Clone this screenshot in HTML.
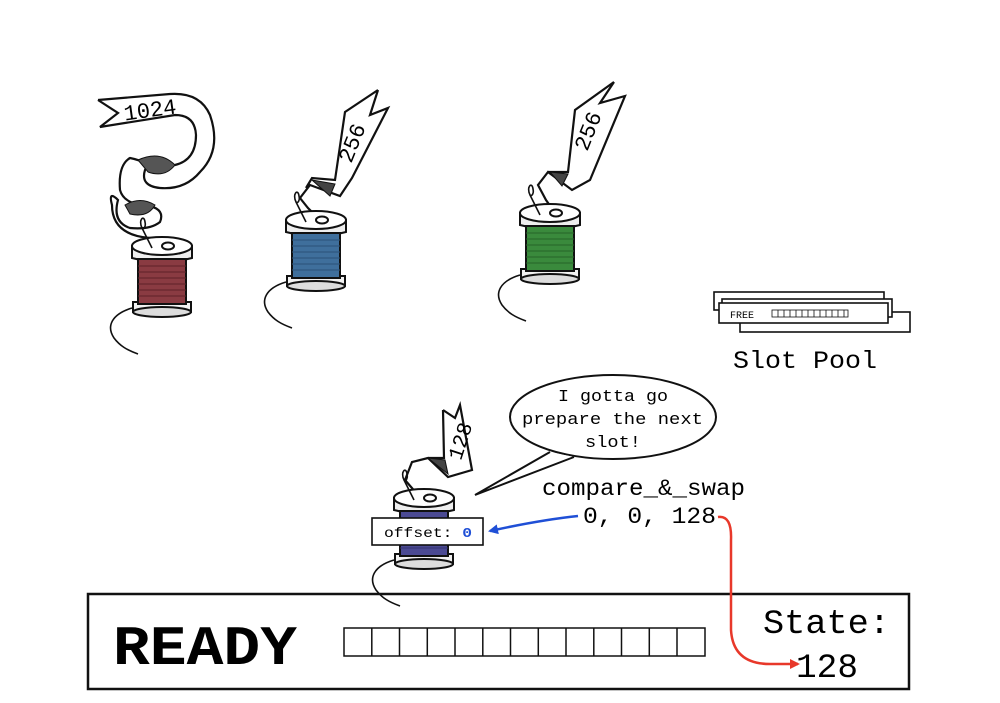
<!DOCTYPE html>
<html><head><meta charset="utf-8"><style>
html,body{margin:0;padding:0;background:#fff}
svg{display:block}
text{font-family:"Liberation Mono","Courier New",monospace}
</style></head><body>
<svg width="1000" height="703" viewBox="0 0 1000 703" xmlns="http://www.w3.org/2000/svg">
<defs>
<marker id="ab" markerWidth="10" markerHeight="10" refX="8" refY="5" orient="auto" markerUnits="userSpaceOnUse"><path d="M0,0 L10,5 L0,10 z" fill="#1f4fd6"/></marker>
<marker id="ar" markerWidth="10" markerHeight="10" refX="8" refY="5" orient="auto" markerUnits="userSpaceOnUse"><path d="M0,0 L10,5 L0,10 z" fill="#e8382a"/></marker>
<g id="spoolbase" stroke="#111" stroke-width="2">
  <path d="M-30,62 C-50,68 -56,80 -48,92 M-48,92 C-42,100 -35,104 -24,108" fill="none" stroke-width="1.6"/>
  <path d="M-29,56 L-29,66 Q0,74 29,66 L29,56 z" fill="#f2f2f2"/>
  <ellipse cx="0" cy="66" rx="29" ry="5" fill="#ddd"/>
  <path d="M-30,0 L-30,12 Q0,20 30,12 L30,0 z" fill="#eee"/>
  <ellipse cx="0" cy="0" rx="30" ry="9" fill="#fff"/>
  <ellipse cx="6" cy="0" rx="6" ry="3.5" fill="#fff"/>
  <path d="M-10,2 L-20,-18 M-20,-18 C-24,-26 -18,-32 -17,-24 C-16,-20 -18,-16 -20,-18" fill="none" stroke-width="1.6"/>
</g>
</defs>

<!-- RED spool + ribbon -->
<g stroke="#111" stroke-width="2.2" fill="#fff">
  <path d="M98,100 L170,94 Q200,92 210,115 Q222,150 200,172 Q185,190 160,188 Q140,186 145,170 Q150,162 130,158 Q118,165 120,190 Q124,205 150,206 Q165,210 160,222 Q150,230 130,228 Q112,222 118,200 Q108,190 112,205 Q112,235 150,238 L152,242" fill="#fff"/>
  <path d="M98,100 L118,113 L100,127 L175,115 Q195,115 196,135 Q196,160 175,165 Q155,168 150,160" fill="none"/>
  <path d="M138,160 Q160,150 175,165 Q165,178 148,172z" fill="#555" stroke-width="1"/>
  <path d="M125,205 Q140,196 155,205 Q148,218 130,214z" fill="#555" stroke-width="1"/>
</g>
<text x="150" y="117" font-family="Liberation Serif,serif" font-size="22" transform="rotate(-8 150 110)" text-anchor="middle">1024</text>
<g transform="translate(162,246)">
  <use href="#spoolbase"/>
  <rect x="-24" y="13" width="48" height="45" fill="#8a3b42" stroke="#111" stroke-width="2"/>
  <g stroke="#5e2228" stroke-width="1"><path d="M-24,20H24M-24,26H24M-24,32H24M-24,38H24M-24,44H24M-24,50H24"/></g>
</g>

<!-- BLUE -->
<g stroke="#111" stroke-width="2.2" fill="#fff">
  <path d="M378,90 L370,115 L388,108 L352,178 L340,196 L310,185 L300,198 L308,208 L318,218" fill="none"/>
  <path d="M378,90 L345,112 L335,180 L312,178 L306,188" fill="none"/>
  <path d="M312,180 L335,184 L330,196z" fill="#444" stroke-width="1"/>
</g>
<text x="352" y="150" font-family="Liberation Serif,serif" font-size="22" transform="rotate(-68 352 143)" text-anchor="middle">256</text>
<g transform="translate(316,220)">
  <use href="#spoolbase"/>
  <rect x="-24" y="13" width="48" height="45" fill="#3f6f9c" stroke="#111" stroke-width="2"/>
  <g stroke="#2b5278" stroke-width="1"><path d="M-24,20H24M-24,26H24M-24,32H24M-24,38H24M-24,44H24M-24,50H24"/></g>
</g>

<!-- GREEN -->
<g stroke="#111" stroke-width="2.2" fill="#fff">
  <path d="M614,82 L600,103 L625,96 L590,180 L572,190 L548,172 L538,185 L546,200 L553,210" fill="none"/>
  <path d="M614,82 L575,110 L568,172 L548,172" fill="none"/>
  <path d="M550,172 L568,174 L562,186z" fill="#444" stroke-width="1"/>
</g>
<text x="588" y="138" font-family="Liberation Serif,serif" font-size="22" transform="rotate(-68 588 131)" text-anchor="middle">256</text>
<g transform="translate(550,213)">
  <use href="#spoolbase"/>
  <rect x="-24" y="13" width="48" height="45" fill="#3a8a3c" stroke="#111" stroke-width="2"/>
  <g stroke="#266428" stroke-width="1"><path d="M-24,20H24M-24,26H24M-24,32H24M-24,38H24M-24,44H24M-24,50H24"/></g>
</g>

<!-- PURPLE -->
<g stroke="#111" stroke-width="2.2" fill="#fff">
  <path d="M443,410 L455,418 L460,405 L472,470 L448,477 L428,458 L412,462 L405,480 L418,495" fill="none"/>
  <path d="M443,410 L444,458 L428,458" fill="none"/>
  <path d="M428,458 L445,460 L448,474z" fill="#444" stroke-width="1"/>
</g>
<text x="460" y="448" font-family="Liberation Serif,serif" font-size="21" transform="rotate(-72 460 441)" text-anchor="middle">128</text>
<g transform="translate(424,498)">
  <use href="#spoolbase"/>
  <rect x="-24" y="13" width="48" height="45" fill="#4b4a93" stroke="#111" stroke-width="2"/>
  <g stroke="#333270" stroke-width="1"><path d="M-24,20H24M-24,26H24M-24,32H24M-24,38H24M-24,44H24M-24,50H24"/></g>
</g>

<!-- Slot pool -->
<g stroke="#111" stroke-width="1.6" fill="#fff">
  <rect x="740" y="312" width="170" height="20"/>
  <rect x="714" y="292" width="170" height="18"/>
  <rect x="722" y="299" width="170" height="18"/>
  <rect x="719" y="303" width="169" height="20"/>
</g>
<text x="730" y="318" font-size="10" font-family="Liberation Serif,serif">FREE</text>
<g stroke="#111" stroke-width="0.8" fill="none">
  <rect x="772" y="310" width="76" height="7"/>
  <path d="M778,310v7M784,310v7M790,310v7M796,310v7M802,310v7M808,310v7M814,310v7M820,310v7M826,310v7M832,310v7M838,310v7M844,310v7"/>
</g>
<text x="733" y="368" font-size="25" textLength="144" lengthAdjust="spacingAndGlyphs">Slot Pool</text>

<!-- speech bubble -->
<ellipse cx="613" cy="417" rx="103" ry="42" fill="#fff" stroke="#111" stroke-width="2"/>
<path d="M550,452 L475,495 L574,457" fill="#fff" stroke="#111" stroke-width="2"/>
<g font-size="17">
<text x="558" y="401" textLength="110" lengthAdjust="spacingAndGlyphs">I gotta go</text>
<text x="522" y="424" textLength="181" lengthAdjust="spacingAndGlyphs">prepare the next</text>
<text x="585" y="447" textLength="56" lengthAdjust="spacingAndGlyphs">slot!</text>
</g>

<text x="542" y="495" font-size="23" textLength="203" lengthAdjust="spacingAndGlyphs">compare_&amp;_swap</text>
<text x="583" y="523" font-size="23" textLength="133" lengthAdjust="spacingAndGlyphs">0, 0, 128</text>

<rect x="372" y="518" width="111" height="27" fill="#fff" stroke="#111" stroke-width="1.6"/>
<text x="384" y="537" font-size="14" textLength="88" lengthAdjust="spacingAndGlyphs">offset: <tspan fill="#1f4fd6" font-weight="bold">0</tspan></text>

<path d="M578,516 Q540,520 490,531" fill="none" stroke="#1f4fd6" stroke-width="2.5" marker-end="url(#ab)"/>

<!-- main box -->
<rect x="88" y="594" width="821" height="95" fill="none" stroke="#111" stroke-width="2.5"/>
<text x="113" y="664" font-size="56" font-weight="bold" textLength="184" lengthAdjust="spacingAndGlyphs">READY</text>
<g stroke="#111" stroke-width="1.5" fill="none">
  <rect x="344" y="628" width="361" height="28"/>
  <path d="M371.8,628v28M399.5,628v28M427.3,628v28M455,628v28M482.8,628v28M510.5,628v28M538.3,628v28M566,628v28M593.8,628v28M621.5,628v28M649.3,628v28M677,628v28"/>
</g>
<text x="763" y="633" font-size="34" textLength="127" lengthAdjust="spacingAndGlyphs">State:</text>
<text x="796" y="677" font-size="34" textLength="62" lengthAdjust="spacingAndGlyphs">128</text>
<path d="M718,517 Q732,515 731,540 L731,630 Q733,664 770,664 L798,664" fill="none" stroke="#e8382a" stroke-width="2.5" marker-end="url(#ar)"/>
</svg>
</body></html>
